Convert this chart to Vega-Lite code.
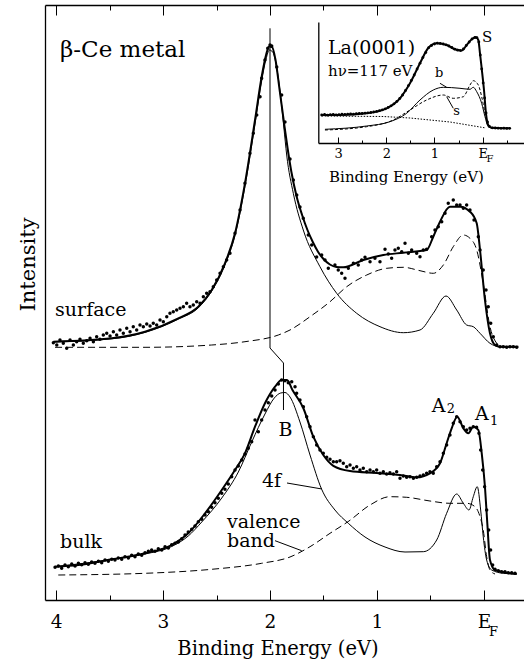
{
"$schema":"https://vega.github.io/schema/vega-lite/v6.json",
"width":479,"height":595,
"autosize":{"type":"none"},
"padding":{"left":45,"top":5,"right":0,"bottom":62},
"config":{"view":{"stroke":null},"axis":{"grid":false,"domainColor":"#000","tickColor":"#000","labelColor":"#000","titleColor":"#000","labelFont":"DejaVu Serif","titleFont":"DejaVu Serif","titleFontWeight":"normal","labelFlush":false,"labelOverlap":false},"text":{"font":"DejaVu Serif"}},
"layer":[
{
"encoding":{
"x":{"field":"x","type":"quantitative","scale":{"domain":[4.103,-0.374],"zero":false,"nice":false},
"axis":{"orient":"bottom","values":[4,3,2,1,0],"tickSize":-10,"tickWidth":1,"domainWidth":1.3,"labelPadding":22,"labelFontSize":18.5,"labelExpr":"datum.value === 0 ? 'E' : datum.label","title":"Binding Energy (eV)","titleFontSize":19.5,"titleX":232.5,"titleY":54,"titleBaseline":"alphabetic"}},
"y":{"field":"y","type":"quantitative","scale":{"domain":[0,595],"zero":false,"nice":false},
"axis":{"orient":"left","ticks":false,"labels":false,"domainWidth":1.3,"title":"Intensity","titleFontSize":21,"titleX":-11,"titleY":259,"titleBaseline":"alphabetic","titleAngle":270}}
},
"layer":[
{"data":{"values":[{"x":4.009,"y":252.7},{"x":3.168,"y":252.7},{"x":2.545,"y":255},{"x":2.234,"y":258.3},{"x":1.922,"y":265},{"x":1.813,"y":270},{"x":1.626,"y":283.3},{"x":1.439,"y":298.3},{"x":1.283,"y":313.3},{"x":1.096,"y":325},{"x":0.909,"y":331.7},{"x":0.754,"y":332.7},{"x":0.598,"y":329.3},{"x":0.474,"y":326.7},{"x":0.38,"y":335},{"x":0.287,"y":353.3},{"x":0.193,"y":365},{"x":0.131,"y":361.7},{"x":0.068,"y":350},{"x":0.007,"y":316.7},{"x":-0.056,"y":273.3},{"x":-0.119,"y":256.7},{"x":-0.15,"y":253.5}]},
"mark":{"type":"line","color":"#000","strokeWidth":1,"strokeDash":[7,4],"interpolate":"monotone"}},
{"data":{"values":[{"x":4.025,"y":258},{"x":3.479,"y":261.2},{"x":3.168,"y":267.6},{"x":2.857,"y":280.8},{"x":2.67,"y":292.2},{"x":2.545,"y":308.8},{"x":2.421,"y":335},{"x":2.327,"y":364.5},{"x":2.234,"y":413.5},{"x":2.14,"y":476},{"x":2.078,"y":519},{"x":2.037,"y":541},{"x":2.005,"y":550},{"x":1.975,"y":548},{"x":1.94,"y":534},{"x":1.9,"y":503},{"x":1.87,"y":472},{"x":1.844,"y":445},{"x":1.782,"y":406.7},{"x":1.689,"y":370},{"x":1.533,"y":333.3},{"x":1.377,"y":306.7},{"x":1.19,"y":286.7},{"x":0.972,"y":273.3},{"x":0.754,"y":267.3},{"x":0.598,"y":270},{"x":0.474,"y":286.7},{"x":0.355,"y":304},{"x":0.255,"y":290},{"x":0.162,"y":275},{"x":0.1,"y":273.3},{"x":0.037,"y":266.7},{"x":-0.056,"y":256.7},{"x":-0.15,"y":253.3},{"x":-0.318,"y":253}]},
"mark":{"type":"line","color":"#000","strokeWidth":1,"interpolate":"monotone"}},
{"data":{"values":[{"x":4.025,"y":258.3},{"x":3.479,"y":261.7},{"x":3.168,"y":268.3},{"x":2.857,"y":281.7},{"x":2.67,"y":293.3},{"x":2.545,"y":310},{"x":2.421,"y":336.7},{"x":2.327,"y":366.7},{"x":2.234,"y":416.7},{"x":2.14,"y":480},{"x":2.078,"y":523.3},{"x":2.037,"y":545},{"x":2.009,"y":553.5},{"x":1.981,"y":553},{"x":1.95,"y":541},{"x":1.91,"y":510},{"x":1.87,"y":478},{"x":1.836,"y":452},{"x":1.8,"y":428},{"x":1.75,"y":403},{"x":1.7,"y":385},{"x":1.65,"y":370},{"x":1.6,"y":358},{"x":1.55,"y":348},{"x":1.5,"y":341},{"x":1.44,"y":335.5},{"x":1.38,"y":333},{"x":1.315,"y":332.7},{"x":1.128,"y":340},{"x":0.941,"y":345},{"x":0.754,"y":347.3},{"x":0.536,"y":350},{"x":0.474,"y":363.3},{"x":0.411,"y":378.3},{"x":0.318,"y":393.3},{"x":0.224,"y":393.3},{"x":0.131,"y":388.3},{"x":0.068,"y":376.7},{"x":0.037,"y":350},{"x":-0.009,"y":300},{"x":-0.056,"y":266.7},{"x":-0.103,"y":255},{"x":-0.15,"y":253.3},{"x":-0.321,"y":253.3}]},
"mark":{"type":"line","color":"#000","strokeWidth":2,"interpolate":"monotone"}},
{"data":{"values":[{"x":4.025,"y":257.3},{"x":3.993,"y":255},{"x":3.963,"y":260},{"x":3.932,"y":256.7},{"x":3.9,"y":251.7},{"x":3.869,"y":260},{"x":3.838,"y":255},{"x":3.807,"y":258.3},{"x":3.776,"y":260.7},{"x":3.745,"y":256.7},{"x":3.713,"y":259.3},{"x":3.682,"y":261.7},{"x":3.651,"y":258.3},{"x":3.62,"y":263.3},{"x":3.589,"y":260.7},{"x":3.558,"y":265},{"x":3.526,"y":266.7},{"x":3.495,"y":264},{"x":3.464,"y":268.3},{"x":3.433,"y":265},{"x":3.402,"y":270},{"x":3.371,"y":266.7},{"x":3.339,"y":271.7},{"x":3.308,"y":268.3},{"x":3.278,"y":273.3},{"x":3.246,"y":270},{"x":3.215,"y":275},{"x":3.184,"y":273.3},{"x":3.152,"y":276},{"x":3.121,"y":274},{"x":3.091,"y":276.7},{"x":3.059,"y":275},{"x":3.028,"y":280},{"x":2.997,"y":278.3},{"x":2.965,"y":283.3},{"x":2.935,"y":286.7},{"x":2.904,"y":288.3},{"x":2.872,"y":290},{"x":2.841,"y":291.7},{"x":2.81,"y":293.3},{"x":2.779,"y":296.7},{"x":2.748,"y":293.3},{"x":2.717,"y":295},{"x":2.685,"y":298.3},{"x":2.654,"y":296.7},{"x":2.623,"y":303.3},{"x":2.592,"y":306.7},{"x":2.561,"y":308.3},{"x":2.53,"y":313.3},{"x":2.498,"y":320},{"x":2.467,"y":326.7},{"x":2.436,"y":333.3},{"x":2.405,"y":340},{"x":2.374,"y":346.7},{"x":2.327,"y":366.7},{"x":2.28,"y":390},{"x":2.234,"y":416.7},{"x":2.187,"y":446.7},{"x":2.156,"y":466.7},{"x":2.124,"y":485},{"x":2.093,"y":503.3},{"x":2.078,"y":521.7},{"x":2.047,"y":540},{"x":2.021,"y":551.7},{"x":2.0,"y":555},{"x":1.984,"y":554},{"x":1.937,"y":533},{"x":1.891,"y":505},{"x":1.86,"y":478},{"x":1.813,"y":441},{"x":1.782,"y":420},{"x":1.75,"y":405},{"x":1.72,"y":393},{"x":1.689,"y":381.7},{"x":1.642,"y":365},{"x":1.61,"y":355},{"x":1.564,"y":343},{"x":1.517,"y":345},{"x":1.486,"y":340},{"x":1.455,"y":331.7},{"x":1.393,"y":335},{"x":1.362,"y":330},{"x":1.33,"y":326.7},{"x":1.299,"y":321.7},{"x":1.268,"y":331.7},{"x":1.221,"y":336.7},{"x":1.175,"y":335},{"x":1.143,"y":340},{"x":1.112,"y":342.7},{"x":1.065,"y":338.3},{"x":1.019,"y":341.7},{"x":0.972,"y":338.3},{"x":0.925,"y":350.7},{"x":0.894,"y":346},{"x":0.863,"y":341.7},{"x":0.832,"y":350},{"x":0.801,"y":351.7},{"x":0.769,"y":348.3},{"x":0.738,"y":356.7},{"x":0.707,"y":346.7},{"x":0.676,"y":350},{"x":0.629,"y":346.7},{"x":0.598,"y":343.3},{"x":0.567,"y":350},{"x":0.536,"y":350.7},{"x":0.489,"y":363.3},{"x":0.458,"y":370},{"x":0.427,"y":373.3},{"x":0.395,"y":378.3},{"x":0.364,"y":386.7},{"x":0.334,"y":396.7},{"x":0.287,"y":400},{"x":0.255,"y":395},{"x":0.224,"y":395},{"x":0.193,"y":391.7},{"x":0.162,"y":395},{"x":0.131,"y":390},{"x":0.093,"y":380},{"x":0.053,"y":363.3},{"x":0.037,"y":350},{"x":0.007,"y":330},{"x":-0.019,"y":310},{"x":-0.04,"y":293.3},{"x":-0.063,"y":276.7},{"x":-0.087,"y":263.3},{"x":-0.119,"y":255},{"x":-0.15,"y":253.3},{"x":-0.18,"y":253.3},{"x":-0.212,"y":252.7},{"x":-0.243,"y":253.3},{"x":-0.274,"y":253.3},{"x":-0.306,"y":252.7}]},
"mark":{"type":"point","filled":true,"color":"#000","opacity":1,"size":12}},
{"data":{"values":[{"x":3.979,"y":25},{"x":3.168,"y":26.7},{"x":2.545,"y":30.7},{"x":2.078,"y":36.7},{"x":1.813,"y":43},{"x":1.626,"y":53.3},{"x":1.439,"y":66.7},{"x":1.262,"y":79},{"x":1.065,"y":95},{"x":0.879,"y":103.3},{"x":0.722,"y":102.7},{"x":0.505,"y":99},{"x":0.318,"y":96.7},{"x":0.162,"y":96.7},{"x":0.084,"y":93.3},{"x":0.037,"y":83.3},{"x":0.007,"y":70},{"x":-0.025,"y":43.3},{"x":-0.056,"y":30},{"x":-0.103,"y":26}]},
"mark":{"type":"line","color":"#000","strokeWidth":1,"strokeDash":[7,4],"interpolate":"monotone"}},
{"data":{"values":[{"x":4.009,"y":33.3},{"x":3.479,"y":40.5},{"x":3.168,"y":46},{"x":2.919,"y":53.5},{"x":2.764,"y":64},{"x":2.638,"y":78},{"x":2.451,"y":102},{"x":2.296,"y":128},{"x":2.171,"y":158},{"x":2.047,"y":186},{"x":1.96,"y":202},{"x":1.9,"y":207},{"x":1.86,"y":207.5},{"x":1.813,"y":203},{"x":1.72,"y":178},{"x":1.626,"y":145},{"x":1.517,"y":110.7},{"x":1.393,"y":90},{"x":1.268,"y":76.7},{"x":1.112,"y":63},{"x":0.925,"y":53},{"x":0.738,"y":48},{"x":0.567,"y":48.3},{"x":0.442,"y":60},{"x":0.349,"y":86.7},{"x":0.255,"y":106},{"x":0.193,"y":96.7},{"x":0.14,"y":90},{"x":0.1,"y":103.3},{"x":0.063,"y":113.3},{"x":0.031,"y":90},{"x":0.007,"y":63.3},{"x":-0.025,"y":40},{"x":-0.072,"y":30},{"x":-0.18,"y":26.7},{"x":-0.306,"y":26}]},
"mark":{"type":"line","color":"#000","strokeWidth":1,"interpolate":"monotone"}},
{"data":{"values":[{"x":4.009,"y":33.3},{"x":3.791,"y":35},{"x":3.479,"y":40.7},{"x":3.168,"y":46.7},{"x":2.919,"y":55},{"x":2.764,"y":66.7},{"x":2.607,"y":86.7},{"x":2.451,"y":110},{"x":2.327,"y":130},{"x":2.234,"y":146.7},{"x":2.14,"y":173.3},{"x":2.047,"y":196.7},{"x":1.953,"y":213.3},{"x":1.891,"y":220},{"x":1.841,"y":220},{"x":1.79,"y":210},{"x":1.689,"y":192},{"x":1.595,"y":163.3},{"x":1.502,"y":145},{"x":1.408,"y":134.2},{"x":1.252,"y":129},{"x":1.003,"y":127},{"x":0.785,"y":125},{"x":0.629,"y":122.7},{"x":0.505,"y":126.7},{"x":0.411,"y":136.7},{"x":0.349,"y":156.7},{"x":0.302,"y":171.7},{"x":0.25,"y":183.3},{"x":0.193,"y":171.7},{"x":0.147,"y":166.7},{"x":0.1,"y":173.3},{"x":0.053,"y":170},{"x":0.021,"y":146.7},{"x":-0.009,"y":113.3},{"x":-0.031,"y":76.7},{"x":-0.056,"y":40},{"x":-0.103,"y":30},{"x":-0.306,"y":26}]},
"mark":{"type":"line","color":"#000","strokeWidth":2,"interpolate":"monotone"}},
{"data":{"values":[{"x":4.009,"y":32.7},{"x":3.978,"y":34},{"x":3.947,"y":31.7},{"x":3.916,"y":35},{"x":3.885,"y":33.3},{"x":3.853,"y":36},{"x":3.822,"y":34},{"x":3.791,"y":36.7},{"x":3.76,"y":35.3},{"x":3.729,"y":37.3},{"x":3.698,"y":35.7},{"x":3.667,"y":38},{"x":3.636,"y":36.7},{"x":3.604,"y":38.7},{"x":3.573,"y":37.3},{"x":3.542,"y":40},{"x":3.511,"y":38.7},{"x":3.479,"y":40.7},{"x":3.449,"y":40},{"x":3.418,"y":42},{"x":3.386,"y":40.7},{"x":3.355,"y":43.3},{"x":3.324,"y":42},{"x":3.293,"y":44.7},{"x":3.262,"y":43.3},{"x":3.231,"y":46},{"x":3.199,"y":44.7},{"x":3.168,"y":47.3},{"x":3.137,"y":48.7},{"x":3.106,"y":50},{"x":3.075,"y":48.7},{"x":3.044,"y":51.3},{"x":3.012,"y":50},{"x":2.981,"y":53.3},{"x":2.95,"y":52},{"x":2.919,"y":55.3},{"x":2.888,"y":56.7},{"x":2.857,"y":58},{"x":2.825,"y":61.3},{"x":2.794,"y":65},{"x":2.764,"y":68},{"x":2.732,"y":70.7},{"x":2.701,"y":74},{"x":2.67,"y":78.3},{"x":2.638,"y":80.7},{"x":2.607,"y":85},{"x":2.576,"y":88.3},{"x":2.545,"y":92.7},{"x":2.514,"y":97.3},{"x":2.483,"y":101.7},{"x":2.451,"y":106.7},{"x":2.421,"y":110.7},{"x":2.39,"y":116},{"x":2.358,"y":123.3},{"x":2.327,"y":130},{"x":2.296,"y":134},{"x":2.264,"y":140},{"x":2.234,"y":146},{"x":2.203,"y":151.7},{"x":2.171,"y":158.3},{"x":2.14,"y":180},{"x":2.109,"y":168.3},{"x":2.078,"y":180},{"x":2.047,"y":190},{"x":2.016,"y":197.3},{"x":1.984,"y":204},{"x":1.953,"y":210},{"x":1.922,"y":216},{"x":1.891,"y":220},{"x":1.86,"y":219.3},{"x":1.829,"y":217.3},{"x":1.797,"y":218.3},{"x":1.766,"y":213.3},{"x":1.751,"y":206.7},{"x":1.72,"y":200},{"x":1.688,"y":193.3},{"x":1.657,"y":183.3},{"x":1.626,"y":173.3},{"x":1.595,"y":163.3},{"x":1.564,"y":155},{"x":1.533,"y":150},{"x":1.502,"y":146.7},{"x":1.47,"y":142.7},{"x":1.439,"y":140.7},{"x":1.408,"y":138.3},{"x":1.377,"y":138.3},{"x":1.346,"y":139.3},{"x":1.315,"y":136.7},{"x":1.283,"y":133.3},{"x":1.252,"y":135},{"x":1.221,"y":131.7},{"x":1.19,"y":133.3},{"x":1.159,"y":130},{"x":1.128,"y":131.7},{"x":1.096,"y":128.3},{"x":1.065,"y":130},{"x":1.034,"y":128.3},{"x":1.003,"y":130},{"x":0.972,"y":126.7},{"x":0.941,"y":128.3},{"x":0.91,"y":126},{"x":0.879,"y":127.3},{"x":0.847,"y":126},{"x":0.816,"y":128.3},{"x":0.785,"y":121.7},{"x":0.754,"y":124},{"x":0.723,"y":122.7},{"x":0.692,"y":123.3},{"x":0.66,"y":121.7},{"x":0.629,"y":122.7},{"x":0.598,"y":124},{"x":0.567,"y":125},{"x":0.536,"y":126.7},{"x":0.505,"y":128.3},{"x":0.474,"y":126.7},{"x":0.442,"y":133.3},{"x":0.411,"y":138.3},{"x":0.38,"y":146.7},{"x":0.349,"y":155},{"x":0.318,"y":165},{"x":0.287,"y":176.7},{"x":0.255,"y":183.3},{"x":0.224,"y":178.3},{"x":0.193,"y":173.3},{"x":0.162,"y":170},{"x":0.131,"y":171.7},{"x":0.1,"y":173.3},{"x":0.069,"y":172.7},{"x":0.047,"y":166.7},{"x":0.031,"y":150},{"x":0.012,"y":130},{"x":-0.006,"y":113.3},{"x":-0.025,"y":90},{"x":-0.044,"y":70},{"x":-0.062,"y":50},{"x":-0.081,"y":35},{"x":-0.103,"y":30.7},{"x":-0.134,"y":29.3},{"x":-0.165,"y":28.3},{"x":-0.196,"y":28.3},{"x":-0.227,"y":27.3},{"x":-0.259,"y":27.3},{"x":-0.29,"y":26.7}]},
"mark":{"type":"point","filled":true,"color":"#000","opacity":1,"size":12}},
{"data":{"values":[{"id":"B","i":0,"x":2.0,"y":571.7},{"id":"B","i":1,"x":2.0,"y":252},{"id":"B","i":2,"x":1.874,"y":237},{"id":"B","i":3,"x":1.874,"y":190},{"id":"f","i":0,"x":1.841,"y":117},{"id":"f","i":1,"x":1.514,"y":111},{"id":"v","i":0,"x":1.953,"y":59.3},{"id":"v","i":1,"x":1.704,"y":49.3}]},
"mark":{"type":"line","color":"#000","strokeWidth":1},
"encoding":{"detail":{"field":"id"},"order":{"field":"i","type":"quantitative"}}},
{"data":{"values":[{"t":"β-Ce metal","x":3.963,"y":543}]},
"mark":{"type":"text","fontSize":23,"align":"left","baseline":"alphabetic","color":"#000"},
"encoding":{"text":{"field":"t"}}},
{"data":{"values":[{"t":"surface","x":4.009,"y":284},{"t":"bulk","x":3.963,"y":52},{"t":"B","x":1.921,"y":164},{"t":"4f","x":2.075,"y":113},{"t":"valence","x":2.402,"y":72},{"t":"band","x":2.402,"y":53},{"t":"A","x":0.489,"y":188.3},{"t":"A","x":0.084,"y":180}]},
"mark":{"type":"text","fontSize":19,"align":"left","baseline":"alphabetic","color":"#000"},
"encoding":{"text":{"field":"t"}}},
{"data":{"values":[{"t":"2","x":0.349,"y":186.7},{"t":"1","x":-0.056,"y":175},{"t":"F","x":-0.047,"y":-36}]},
"mark":{"type":"text","fontSize":13,"align":"left","baseline":"alphabetic","color":"#000"},
"encoding":{"text":{"field":"t"}}}
]
},
{"data":{"values":[{"x":2}]},"mark":{"type":"point","opacity":0},
"encoding":{"x":{"field":"x","type":"quantitative","scale":{"domain":[4.103,-0.374],"zero":false,"nice":false},"axis":{"orient":"bottom","values":[3.5,2.5,1.5,0.5],"tickSize":-5,"tickWidth":1,"labels":false,"domain":false,"title":null}}}},
{"data":{"values":[{"x":2}]},"mark":{"type":"point","opacity":0},
"encoding":{"x":{"field":"x","type":"quantitative","scale":{"domain":[4.103,-0.374],"zero":false,"nice":false},"axis":{"orient":"top","values":[4,3,2,1,0],"tickSize":-10,"tickWidth":1,"domainWidth":1.3,"labels":false,"title":null}}}},
{"data":{"values":[{"x":2}]},"mark":{"type":"point","opacity":0},
"encoding":{"x":{"field":"x","type":"quantitative","scale":{"domain":[4.103,-0.374],"zero":false,"nice":false},"axis":{"orient":"top","values":[3.5,2.5,1.5,0.5],"tickSize":-5,"tickWidth":1,"labels":false,"domain":false,"title":null}}}},
{
"encoding":{
"x":{"field":"x","type":"quantitative","scale":{"domain":[3.41,-0.857],"range":[273.3,479],"zero":false,"nice":false},
"axis":{"orient":"bottom","offset":-457,"values":[3,2,1,0],"tickSize":-6,"tickWidth":1,"domainWidth":1.3,"labelPadding":10.5,"labelFontSize":13,"labelExpr":"datum.value === 0 ? 'E' : datum.label","title":"Binding Energy (eV)","titleFontSize":15,"titleX":361,"titleY":38.7,"titleBaseline":"alphabetic"}},
"y":{"field":"y","type":"quantitative","scale":{"domain":[0,121],"range":[138,17],"zero":false,"nice":false},
"axis":{"orient":"left","offset":-273.3,"ticks":false,"labels":false,"domainWidth":1.3,"title":null}}
},
"layer":[
{"data":{"values":[{"x":3.34,"y":27},{"x":2.068,"y":26.5},{"x":1.508,"y":25},{"x":0.678,"y":21},{"x":-0.068,"y":15}]},
"mark":{"type":"line","color":"#000","strokeWidth":1,"strokeDash":[1.5,1.5]}},
{"data":{"values":[{"x":3.272,"y":13},{"x":2.407,"y":16.3},{"x":1.855,"y":23},{"x":1.508,"y":33},{"x":1.162,"y":43},{"x":0.817,"y":48},{"x":0.61,"y":44.7},{"x":0.402,"y":46.3},{"x":0.263,"y":58},{"x":0.195,"y":62.3},{"x":0.091,"y":58},{"x":0.021,"y":46.3},{"x":-0.048,"y":29.7},{"x":-0.116,"y":16.3}]},
"mark":{"type":"line","color":"#000","strokeWidth":1,"strokeDash":[3,2],"interpolate":"monotone"}},
{"data":{"values":[{"x":3.272,"y":13.7},{"x":2.407,"y":17},{"x":1.923,"y":21.3},{"x":1.577,"y":29.7},{"x":1.301,"y":43},{"x":1.025,"y":53},{"x":0.817,"y":55.7},{"x":0.471,"y":54.7},{"x":0.263,"y":53.7},{"x":0.195,"y":55.7},{"x":0.124,"y":51.3},{"x":0.021,"y":39.7},{"x":-0.048,"y":26.3},{"x":-0.116,"y":16.3},{"x":-0.2,"y":14.8}]},
"mark":{"type":"line","color":"#000","strokeWidth":1,"interpolate":"monotone"}},
{"data":{"values":[{"x":3.34,"y":28},{"x":2.961,"y":28},{"x":2.407,"y":29.7},{"x":1.992,"y":34.7},{"x":1.716,"y":44.7},{"x":1.508,"y":59.7},{"x":1.301,"y":79.7},{"x":1.129,"y":95},{"x":0.954,"y":99.7},{"x":0.747,"y":98},{"x":0.575,"y":93.7},{"x":0.436,"y":92.5},{"x":0.332,"y":98},{"x":0.228,"y":103.7},{"x":0.139,"y":105.7},{"x":0.091,"y":103},{"x":0.056,"y":89.7},{"x":0.021,"y":74.7},{"x":-0.027,"y":53},{"x":-0.068,"y":29.7},{"x":-0.116,"y":18},{"x":-0.187,"y":15.3},{"x":-0.566,"y":14.7}]},
"mark":{"type":"line","color":"#000","strokeWidth":2,"interpolate":"monotone"}},
{"data":{"values":[{"x":3.34,"y":28},{"x":3.28,"y":28.5},{"x":3.22,"y":27.8},{"x":3.16,"y":28.3},{"x":3.1,"y":28.6},{"x":3.04,"y":28.1},{"x":2.98,"y":28.4},{"x":2.92,"y":28.8},{"x":2.86,"y":28.5},{"x":2.8,"y":28.9},{"x":2.74,"y":29.2},{"x":2.68,"y":28.9},{"x":2.62,"y":29.4},{"x":2.56,"y":29.6},{"x":2.5,"y":29.5},{"x":2.44,"y":29.9},{"x":2.38,"y":30.2},{"x":2.32,"y":30.5},{"x":2.26,"y":31},{"x":2.2,"y":31.6},{"x":2.14,"y":32.3},{"x":2.08,"y":33.2},{"x":2.02,"y":34.2},{"x":1.96,"y":35.6},{"x":1.9,"y":37.2},{"x":1.84,"y":39.2},{"x":1.78,"y":41.6},{"x":1.72,"y":44.5},{"x":1.66,"y":48},{"x":1.6,"y":52.5},{"x":1.54,"y":57.4},{"x":1.48,"y":62.5},{"x":1.42,"y":68},{"x":1.36,"y":74},{"x":1.3,"y":79.8},{"x":1.24,"y":85.5},{"x":1.18,"y":90.5},{"x":1.12,"y":95.3},{"x":1.06,"y":97.5},{"x":1.0,"y":99},{"x":0.94,"y":99.8},{"x":0.88,"y":99.6},{"x":0.82,"y":99},{"x":0.76,"y":98.2},{"x":0.7,"y":97},{"x":0.64,"y":95.5},{"x":0.58,"y":93.8},{"x":0.52,"y":92.8},{"x":0.46,"y":92.4},{"x":0.4,"y":94},{"x":0.34,"y":97.5},{"x":0.28,"y":101},{"x":0.22,"y":104},{"x":0.16,"y":105.5},{"x":0.12,"y":105.3},{"x":0.08,"y":101},{"x":0.05,"y":88},{"x":0.02,"y":74},{"x":-0.01,"y":60},{"x":-0.04,"y":45},{"x":-0.07,"y":30},{"x":-0.1,"y":21},{"x":-0.14,"y":16.5},{"x":-0.2,"y":15.2},{"x":-0.26,"y":15},{"x":-0.32,"y":14.8},{"x":-0.38,"y":14.7},{"x":-0.44,"y":14.8},{"x":-0.5,"y":14.6},{"x":-0.56,"y":14.7}]},
"mark":{"type":"point","filled":true,"color":"#000","opacity":1,"size":8}},
{"data":{"values":[{"id":"b","i":0,"x":0.886,"y":59.7},{"id":"b","i":1,"x":0.747,"y":55.7},{"id":"s","i":0,"x":0.747,"y":46.3},{"id":"s","i":1,"x":0.61,"y":34.7}]},
"mark":{"type":"line","color":"#000","strokeWidth":1},
"encoding":{"detail":{"field":"id"},"order":{"field":"i","type":"quantitative"}}},
{"data":{"values":[{"t":"La(0001)","x":3.209,"y":89.5}]},
"mark":{"type":"text","fontSize":19,"align":"left","baseline":"alphabetic","color":"#000"},
"encoding":{"text":{"field":"t"}}},
{"data":{"values":[{"t":"hν=117 eV","x":3.209,"y":67},{"t":"S","x":0.015,"y":101.3}]},
"mark":{"type":"text","fontSize":15,"align":"left","baseline":"alphabetic","color":"#000"},
"encoding":{"text":{"field":"t"}}},
{"data":{"values":[{"t":"b","x":0.99,"y":66.3},{"t":"s","x":0.61,"y":28}]},
"mark":{"type":"text","fontSize":13,"align":"left","baseline":"alphabetic","color":"#000"},
"encoding":{"text":{"field":"t"}}},
{"data":{"values":[{"t":"F","x":-0.079,"y":-19}]},
"mark":{"type":"text","fontSize":10,"align":"left","baseline":"alphabetic","color":"#000"},
"encoding":{"text":{"field":"t"}}}
]
},
{"data":{"values":[{"x":1}]},"mark":{"type":"point","opacity":0},
"encoding":{"x":{"field":"x","type":"quantitative","scale":{"domain":[3.41,-0.857],"range":[273.3,479],"zero":false,"nice":false},"axis":{"orient":"bottom","offset":-457,"values":[2.5,1.5,0.5,-0.5],"tickSize":-3,"tickWidth":1,"labels":false,"domain":false,"title":null}}}}
],
"resolve":{"scale":{"x":"independent","y":"independent"},"axis":{"x":"independent","y":"independent"}}
}
